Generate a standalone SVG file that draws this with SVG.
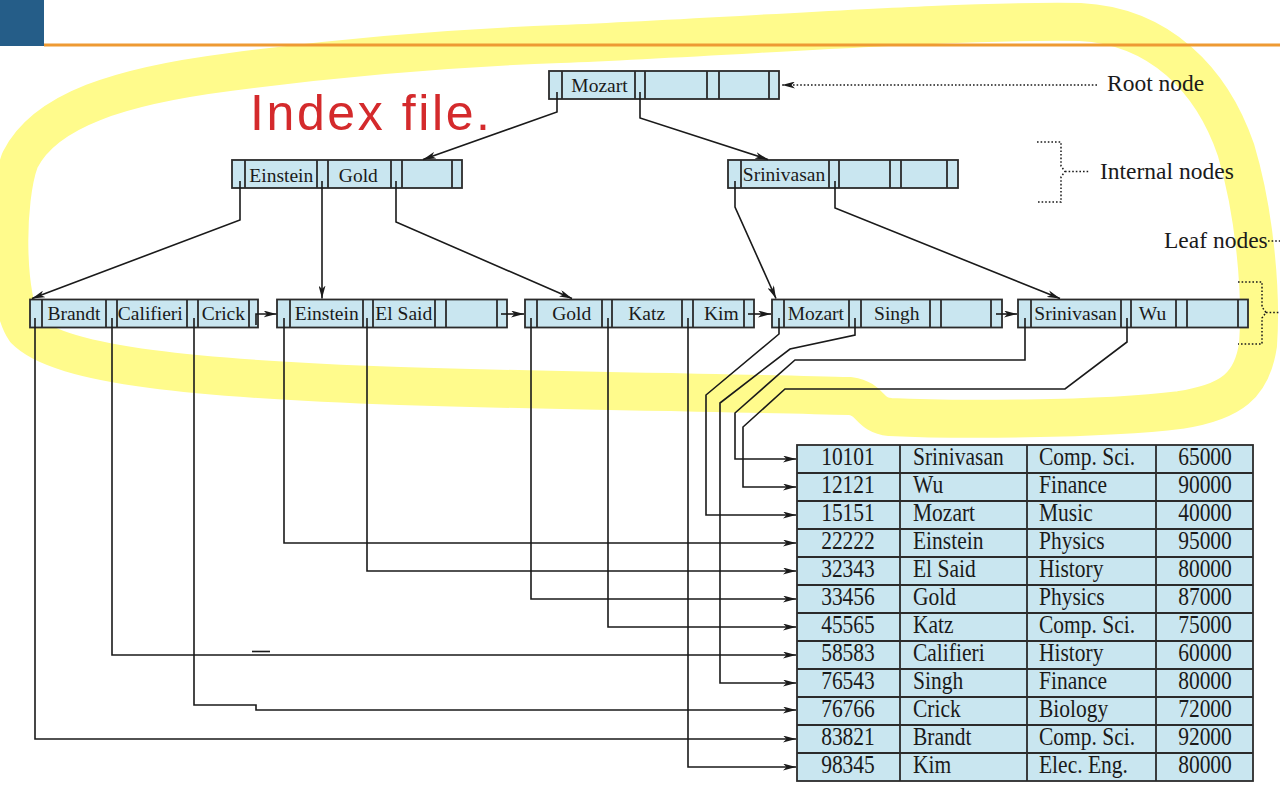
<svg xmlns="http://www.w3.org/2000/svg" width="1280" height="787" viewBox="0 0 1280 787">
<defs>
<style>
.nd{fill:#C9E6F0;stroke:#2b2b2b;stroke-width:1.8}
.dv{fill:none;stroke:#2b2b2b;stroke-width:1.8}
.nt{font-family:"Liberation Serif",serif;font-size:19.5px;fill:#1a1a1a;text-anchor:middle}
.tt{font-family:"Liberation Serif",serif;font-size:21.5px;fill:#1a1a1a}
.mid{text-anchor:middle}
.lb{font-family:"Liberation Serif",serif;font-size:23.5px;fill:#1a1a1a}
.cn{fill:none;stroke:#1a1a1a;stroke-width:1.6}
.ar{marker-end:url(#ah)}
.dot{fill:none;stroke:#1a1a1a;stroke-width:1.5;stroke-dasharray:1.6 2}
</style>
<marker id="ah" viewBox="0 0 13 7" refX="13" refY="3.5" markerWidth="13" markerHeight="7" markerUnits="userSpaceOnUse" orient="auto">
<path d="M0,0 L13,3.5 L0,7 L3.5,3.5 z" fill="#1a1a1a"/>
</marker>
</defs>
<rect width="1280" height="787" fill="#ffffff"/>
<!-- highlighter -->
<path d="M560,44 C750,36 950,20 1080,22 C1160,26 1212,80 1236,150 C1254,210 1262,290 1258,345 C1252,385 1232,402 1180,410 C1100,420 950,420 890,417 C868,415 872,399 850,396 C760,393 600,392 400,386 C200,379 60,366 25,330 C5,300 5,200 20,160 C45,110 120,86 230,72 C350,56 450,48 560,44 Z" fill="none" stroke="#FFFB8C" stroke-width="38" stroke-linejoin="round"/>
<!-- header -->
<rect x="0" y="0" width="44" height="46" fill="#255D88"/>
<rect x="44" y="43.5" width="1236" height="3" fill="#EE9A33"/>
<text x="250" y="130" font-family="'Liberation Sans',sans-serif" font-size="50" fill="#D42A2C" textLength="240" lengthAdjust="spacing">Index file.</text>

<g id="root-node">
<rect class="nd" x="549" y="71" width="230" height="28"/>
<path class="dv" d="M562,71V99M635,71V99M645,71V99M707,71V99M719,71V99M769,71V99"/>
<text class="nt" x="599.5" y="91.5">Mozart</text>
</g>
<g id="internal-1">
<rect class="nd" x="232" y="160" width="230" height="28"/>
<path class="dv" d="M245,160V188M317,160V188M328,160V188M391,160V188M402,160V188M452,160V188"/>
<text class="nt" x="281.3" y="181.5">Einstein</text>
<text class="nt" x="358.3" y="181.5">Gold</text>
</g>
<g id="internal-2">
<rect class="nd" x="728" y="160" width="230" height="28"/>
<path class="dv" d="M741,160V188M829,160V188M839,160V188M890,160V188M901,160V188M947,160V188"/>
<text class="nt" x="784" y="181">Srinivasan</text>
</g>
<g id="leaf-1">
<rect class="nd" x="30" y="299.5" width="228" height="28"/>
<path class="dv" d="M42,299.5V327.5M106,299.5V327.5M117,299.5V327.5M187,299.5V327.5M198,299.5V327.5M249,299.5V327.5"/>
<text class="nt" x="74" y="319.5">Brandt</text>
<text class="nt" x="150.3" y="319.5">Califieri</text>
<text class="nt" x="223.3" y="319.5">Crick</text>
</g>
<g id="leaf-2">
<rect class="nd" x="277" y="299.5" width="230" height="28"/>
<path class="dv" d="M290,299.5V327.5M363,299.5V327.5M373,299.5V327.5M435,299.5V327.5M446,299.5V327.5M497,299.5V327.5"/>
<text class="nt" x="326.7" y="319.5">Einstein</text>
<text class="nt" x="403.8" y="319.5">El Said</text>
</g>
<g id="leaf-3">
<rect class="nd" x="525" y="299.5" width="229" height="28"/>
<path class="dv" d="M537,299.5V327.5M602,299.5V327.5M612,299.5V327.5M682,299.5V327.5M693,299.5V327.5M744,299.5V327.5"/>
<text class="nt" x="571.7" y="319.5">Gold</text>
<text class="nt" x="646.7" y="319.5">Katz</text>
<text class="nt" x="721.3" y="319.5">Kim</text>
</g>
<g id="leaf-4">
<rect class="nd" x="772" y="299.5" width="230" height="28"/>
<path class="dv" d="M784,299.5V327.5M849,299.5V327.5M861,299.5V327.5M930,299.5V327.5M941,299.5V327.5M991,299.5V327.5"/>
<text class="nt" x="815.8" y="319.5">Mozart</text>
<text class="nt" x="896.8" y="319.5">Singh</text>
</g>
<g id="leaf-5">
<rect class="nd" x="1018" y="299.5" width="230" height="28"/>
<path class="dv" d="M1031,299.5V327.5M1121,299.5V327.5M1131,299.5V327.5M1176,299.5V327.5M1187,299.5V327.5M1238,299.5V327.5"/>
<text class="nt" x="1075.5" y="319.5">Srinivasan</text>
<text class="nt" x="1152.5" y="319.5">Wu</text>
</g>

<g id="instructor-file">
<rect class="nd" x="797" y="445" width="456" height="336"/>
<path class="dv" d="M797,473H1253M797,501H1253M797,529H1253M797,557H1253M797,585H1253M797,613H1253M797,641H1253M797,669H1253M797,697H1253M797,725H1253M797,753H1253M900,445V781M1027,445V781M1156,445V781"/>
<g transform="scale(1,1.22)">
<text class="tt mid" x="848" y="381.15">10101</text><text class="tt" x="913" y="381.15">Srinivasan</text><text class="tt" x="1039" y="381.15">Comp. Sci.</text><text class="tt mid" x="1205" y="381.15">65000</text>
<text class="tt mid" x="848" y="404.10">12121</text><text class="tt" x="913" y="404.10">Wu</text><text class="tt" x="1039" y="404.10">Finance</text><text class="tt mid" x="1205" y="404.10">90000</text>
<text class="tt mid" x="848" y="427.05">15151</text><text class="tt" x="913" y="427.05">Mozart</text><text class="tt" x="1039" y="427.05">Music</text><text class="tt mid" x="1205" y="427.05">40000</text>
<text class="tt mid" x="848" y="450.00">22222</text><text class="tt" x="913" y="450.00">Einstein</text><text class="tt" x="1039" y="450.00">Physics</text><text class="tt mid" x="1205" y="450.00">95000</text>
<text class="tt mid" x="848" y="472.95">32343</text><text class="tt" x="913" y="472.95">El Said</text><text class="tt" x="1039" y="472.95">History</text><text class="tt mid" x="1205" y="472.95">80000</text>
<text class="tt mid" x="848" y="495.90">33456</text><text class="tt" x="913" y="495.90">Gold</text><text class="tt" x="1039" y="495.90">Physics</text><text class="tt mid" x="1205" y="495.90">87000</text>
<text class="tt mid" x="848" y="518.85">45565</text><text class="tt" x="913" y="518.85">Katz</text><text class="tt" x="1039" y="518.85">Comp. Sci.</text><text class="tt mid" x="1205" y="518.85">75000</text>
<text class="tt mid" x="848" y="541.80">58583</text><text class="tt" x="913" y="541.80">Califieri</text><text class="tt" x="1039" y="541.80">History</text><text class="tt mid" x="1205" y="541.80">60000</text>
<text class="tt mid" x="848" y="564.75">76543</text><text class="tt" x="913" y="564.75">Singh</text><text class="tt" x="1039" y="564.75">Finance</text><text class="tt mid" x="1205" y="564.75">80000</text>
<text class="tt mid" x="848" y="587.70">76766</text><text class="tt" x="913" y="587.70">Crick</text><text class="tt" x="1039" y="587.70">Biology</text><text class="tt mid" x="1205" y="587.70">72000</text>
<text class="tt mid" x="848" y="610.66">83821</text><text class="tt" x="913" y="610.66">Brandt</text><text class="tt" x="1039" y="610.66">Comp. Sci.</text><text class="tt mid" x="1205" y="610.66">92000</text>
<text class="tt mid" x="848" y="633.61">98345</text><text class="tt" x="913" y="633.61">Kim</text><text class="tt" x="1039" y="633.61">Elec. Eng.</text><text class="tt mid" x="1205" y="633.61">80000</text>
</g>
</g>

<g id="connectors">
<path class="cn ar" d="M557,92V112L423,159.5"/>
<path class="cn ar" d="M640,92V118L768,159.5"/>
<path class="cn ar" d="M240,181V220L32,298.5"/>
<path class="cn ar" d="M322,181V298.5"/>
<path class="cn ar" d="M396,181V222L572,298.5"/>
<path class="cn ar" d="M735,181V207L776,298.5"/>
<path class="cn ar" d="M835,181V208L1060,298.5"/>
<path class="cn ar" d="M256,325V314H276.5"/>
<path class="cn ar" d="M501,314H524"/>
<path class="cn ar" d="M748,314H771"/>
<path class="cn ar" d="M996,314H1017"/>
<path class="cn ar" d="M35,318V739H796"/>
<path class="cn ar" d="M112,318V655H796"/>
<path class="cn" d="M252,651.5H270"/>
<path class="cn ar" d="M194,318V705H256V710H796"/>
<path class="cn ar" d="M284,318V543H796"/>
<path class="cn ar" d="M367,318V571H796"/>
<path class="cn ar" d="M531,318V599H796"/>
<path class="cn ar" d="M608,318V627H796"/>
<path class="cn ar" d="M688,318V767H796"/>
<path class="cn ar" d="M779,318V334L706,395V515H796"/>
<path class="cn ar" d="M855,318V335L790,349L720,403V683H796"/>
<path class="cn ar" d="M1025,318V360H795L735,413V459H796"/>
<path class="cn ar" d="M1127,318V342L1065,389H785L743,427V487H796"/>
</g>

<g id="labels">
<path class="dot ar" d="M1097,85H782"/>
<text class="lb" x="1107" y="91">Root node</text>
<path class="dot" d="M1037,142H1061V166L1065,171.5L1061,177V202H1037M1065,171.5H1089"/>
<text class="lb" x="1100" y="178.5">Internal nodes</text>
<text class="lb" x="1164" y="247.5">Leaf nodes</text>
<path class="dot" d="M1268,241H1280"/>
<path class="dot" d="M1238,282H1262V307L1266,312.5L1262,318V344H1238M1266,312.5H1280"/>
</g>
</svg>
